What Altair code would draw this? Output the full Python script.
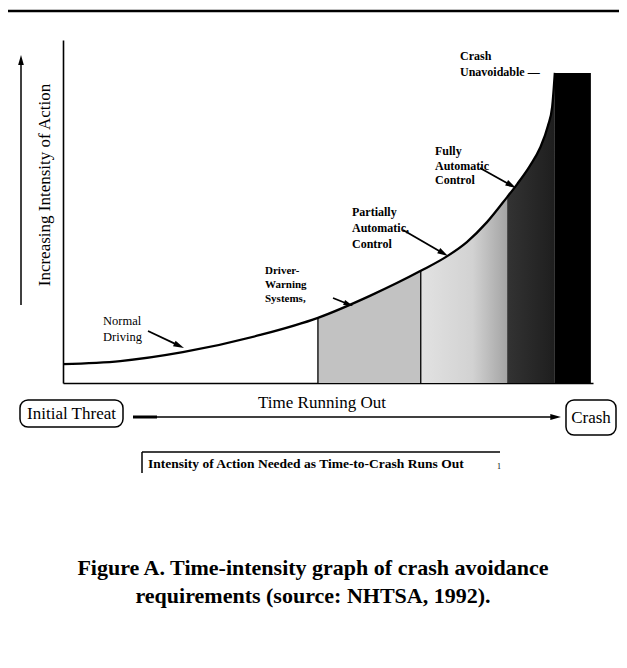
import math
import altair as alt
import pandas as pd

# ---------------- data ----------------
# curve: time running out (0-100) vs intensity of action (0-100)
time = [0, 10.8, 22.6, 37.2, 48.1, 57.9, 67.5, 72.5, 76.2, 80.0, 83.8, 85.7, 88.1, 90.0, 91.5, 92.3, 92.8]
intensity = [5.5, 6.4, 9.0, 14.0, 19.0, 25.4, 32.7, 37.0, 41.1, 46.9, 54.2, 58.0, 63.3, 68.5, 75.0, 80.5, 90.4]

phase_names = ["Driver-Warning Systems", "Partially Automatic Control",
               "Fully Automatic Control", "Crash Unavoidable"]
phase_start = [48.1, 67.5, 83.8, 92.8]
phase_end = [67.5, 83.8, 92.8, 99.6]
crash_top = [90.4]

# annotation texts
y_label = "Increasing Intensity of Action"
lbl_normal = ["Normal", "Driving"]
lbl_driver = ["Driver-", "Warning", "Systems,"]
lbl_partial = ["Partially", "Automatic,", "Control"]
lbl_fully = ["Fully", "Automatic", "Control"]
lbl_crash_unav = ["Crash", "Unavoidable \u2014"]
lbl_initial = "Initial Threat"
lbl_time = "Time Running Out"
lbl_crash = "Crash"
lbl_note = "Intensity of Action Needed as Time-to-Crash Runs Out"
caption = ["Figure A. Time-intensity graph of crash avoidance",
           "requirements (source: NHTSA, 1992)."]

# ---------------- layout ----------------
OX, OY = 63, 40          # page position of plot origin (8px margin + padding)
W, H = 530, 343
SERIF = "Liberation Serif"

curve = pd.DataFrame({"time": time, "intensity": intensity})
one = pd.DataFrame({"k": [0]})

ax = alt.Axis(title=None, ticks=False, labels=False, grid=False,
              domainColor="black", domainWidth=1.6)
xs = alt.Scale(domain=[0, 100], nice=False, zero=False)
ys = alt.Scale(domain=[0, 100], nice=False, zero=False)


def X(f):
    return alt.X(f, scale=xs, axis=ax, title=None)


def Y(f):
    return alt.Y(f, scale=ys, axis=ax, title=None)


fills = [
    "#c2c2c2",
    alt.Gradient(gradient="linear", x1=0, x2=1, y1=0, y2=0,
                 stops=[alt.GradientStop(color="#e2e2e2", offset=0),
                        alt.GradientStop(color="#d2d2d2", offset=0.6),
                        alt.GradientStop(color="#a4a4a4", offset=1)]),
    alt.Gradient(gradient="linear", x1=0, x2=1, y1=0, y2=0,
                 stops=[alt.GradientStop(color="#333333", offset=0),
                        alt.GradientStop(color="#1e1e1e", offset=1)]),
]

layers = []
for i in range(3):
    layers.append(
        alt.Chart(curve).transform_filter(
            alt.FieldRangePredicate(field="time", range=[phase_start[i], phase_end[i]])
        ).mark_area(color=fills[i], interpolate="monotone")
        .encode(x=X("time:Q"), y=Y("intensity:Q"))
    )

crash_df = pd.DataFrame({"start": [phase_start[3]], "end": [phase_end[3]], "top": crash_top})
layers.append(
    alt.Chart(crash_df).mark_rect(color="black")
    .encode(x=X("start:Q"), x2="end:Q", y=Y("top:Q"), y2=alt.datum(0))
)

edges = curve[curve["time"].isin(phase_start[:2])]
layers.append(
    alt.Chart(edges).mark_rule(color="black", strokeWidth=1.3)
    .encode(x=X("time:Q"), y=Y("intensity:Q"), y2=alt.datum(0))
)

layers.append(
    alt.Chart(curve).mark_line(color="black", strokeWidth=2.3, interpolate="monotone")
    .encode(x=X("time:Q"), y=Y("intensity:Q"))
)


# ---------------- annotation helpers (page pixel coords) ----------------
def text(lines, x, y, size, weight="normal", align="left", angle=0, lh=None):
    t = lines if isinstance(lines, str) or len(lines) > 1 else lines[0]
    return alt.Chart(one).mark_text(
        text=t, font=SERIF, fontSize=size, fontWeight=weight, align=align,
        baseline="middle", angle=angle, lineHeight=lh or size * 1.2, color="black"
    ).encode(x=alt.value(x - OX), y=alt.value(y - OY))


def seg(x1, y1, x2, y2, w=1.5):
    return alt.Chart(one).mark_rule(color="black", strokeWidth=w).encode(
        x=alt.value(x1 - OX), y=alt.value(y1 - OY),
        x2=alt.value(x2 - OX), y2=alt.value(y2 - OY))


HEAD = "M0,-1L0.5,0.75L-0.5,0.75Z"


def arrow(x1, y1, x2, y2, w=1.8, size=150):
    dx, dy = x2 - x1, y2 - y1
    L = math.hypot(dx, dy)
    ux, uy = dx / L, dy / L
    r = math.sqrt(size) / 2
    cx, cy = x2 - ux * r, y2 - uy * r
    ang = math.degrees(math.atan2(dx, -dy)) % 360
    head = alt.Chart(one).mark_point(
        shape=HEAD, filled=True, color="black", size=size, angle=ang, opacity=1
    ).encode(x=alt.value(cx - OX), y=alt.value(cy - OY))
    return [seg(x1, y1, x2 - ux * r, y2 - uy * r, w), head]


def box(x1, y1, x2, y2):
    return alt.Chart(one).mark_rect(
        cornerRadius=8, fill="white", stroke="black", strokeWidth=1.5
    ).encode(x=alt.value(x1 - OX), x2=alt.value(x2 - OX),
             y=alt.value(y1 - OY), y2=alt.value(y2 - OY))


ann = []
# top rule
ann.append(seg(8, 11, 619, 11, 2.5))
# y label and arrow
ann.append(text(y_label, 45, 185, 17, angle=270, align="center"))
ann += arrow(21, 305, 21, 55, 1.5, 130)
# curve labels
ann.append(text(lbl_normal, 103, 321, 12.5, lh=16))
ann += arrow(148, 331, 184, 348)
ann.append(text(lbl_driver, 265, 271, 11, weight="bold", lh=14))
ann += arrow(333, 298, 353, 306, 1.8, 120)
ann.append(text(lbl_partial, 352, 212, 12, weight="bold", lh=16))
ann += arrow(403, 230, 448, 256)
ann.append(text(lbl_fully, 435, 151, 12, weight="bold", lh=14.5))
ann += arrow(480, 168, 516, 188)
ann.append(text(lbl_crash_unav, 460, 56, 12, weight="bold", lh=16))
# time axis
ann.append(box(20, 400, 123, 427))
ann.append(text(lbl_initial, 71.5, 413.5, 17, align="center"))
ann.append(box(566, 400, 616, 435))
ann.append(text(lbl_crash, 591, 418, 17, align="center"))
ann.append(text(lbl_time, 322, 403, 17, align="center"))
ann.append(seg(133, 417, 157, 417, 3))
ann += arrow(133, 417, 561, 417, 1.6, 150)
# note box
ann.append(seg(142, 452, 500, 452, 1.5))
ann.append(seg(142, 452, 142, 473, 1.5))
ann.append(text(lbl_note, 148, 464, 13.5, weight="bold"))
ann.append(text("1", 497, 467, 8))
# figure caption
ann.append(text(caption[0], 313, 568, 22, weight="bold", align="center"))
ann.append(text(caption[1], 313, 596, 22, weight="bold", align="center"))

chart = alt.layer(*layers, *ann).properties(
    width=W, height=H,
    autosize=alt.AutoSizeParams(type="none"),
    padding={"left": OX - 8, "top": OY - 8, "right": 627 - 16 - (OX - 8) - W,
             "bottom": 668 - 16 - (OY - 8) - H},
    background="white",
).configure_view(stroke=None)

chart.save("out.html", embed_options={"renderer": "svg", "actions": False})
